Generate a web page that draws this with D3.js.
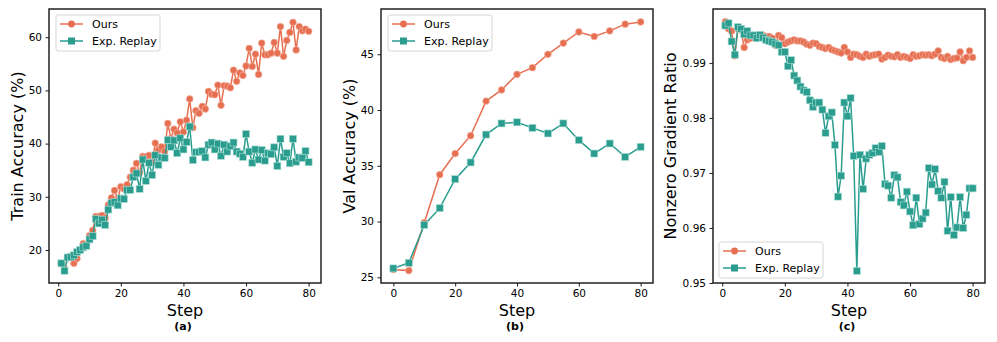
<!DOCTYPE html>
<html lang="en">
<head>
<meta charset="utf-8">
<title>Training curves</title>
<script src="https://d3js.org/d3.v7.min.js"></script>
<style>
  body { margin: 0; background: #fff; }
  text { font-family: "DejaVu Sans", sans-serif; fill: #000; }
</style>
</head>
<body>
<script>
// ---- data ----
var stepsA = d3.range(1, 81);
var trainOurs = [17.5, 16.5, 18.5, 18.8, 17.5, 18.4, 20.0, 21.2, 21.0, 22.7,
  23.7, 26.3, 26.3, 26.5, 26.0, 28.5, 29.8, 31.2, 29.5, 31.9,
  31.5, 32.3, 33.7, 35.0, 36.3, 34.5, 37.6, 37.5, 37.8, 36.5,
  40.1, 38.8, 39.4, 38.5, 43.8, 41.0, 42.7, 42.0, 44.1, 42.2,
  44.4, 48.4, 43.0, 46.2, 45.7, 47.0, 46.5, 49.8, 49.3, 49.2,
  51.0, 47.2, 50.9, 50.8, 50.5, 53.8, 51.7, 53.3, 52.8, 54.6,
  57.9, 54.5, 56.8, 53.0, 58.9, 56.7, 56.7, 57.0, 59.0, 57.0,
  62.0, 56.4, 59.4, 60.9, 62.8, 57.6, 62.0, 61.2, 61.5, 61.1];
var trainReplay = [17.5, 16.1, 18.6, 18.7, 19.0, 19.6, 20.0, 20.5, 20.8, 22.0,
  22.6, 25.8, 25.0, 25.7, 24.7, 27.6, 28.8, 29.0, 28.4, 29.7,
  29.6, 31.3, 31.3, 33.7, 34.4, 31.5, 37.0, 33.0, 36.4, 34.1,
  37.8, 36.0, 37.4, 37.3, 40.7, 39.4, 40.6, 38.2, 41.0, 38.9,
  40.3, 43.2, 36.9, 38.4, 38.4, 38.6, 37.4, 39.8, 40.2, 38.9,
  40.0, 37.7, 39.8, 38.5, 39.5, 40.2, 38.5, 38.1, 37.5, 41.8,
  38.5, 36.4, 38.9, 37.0, 38.8, 36.8, 38.2, 38.0, 39.3, 35.8,
  40.9, 37.5, 38.2, 36.3, 40.9, 36.6, 37.4, 37.3, 38.6, 36.5];

var stepsB = d3.range(0, 81, 5);
var valOurs = [25.7, 25.6, 29.9, 34.2, 36.1, 37.7, 40.8, 41.8, 43.2, 43.8,
  45.0, 46.0, 47.0, 46.6, 47.1, 47.7, 47.9];
var valReplay = [25.8, 26.3, 29.7, 31.2, 33.8, 35.3, 37.8, 38.8, 38.9, 38.4,
  37.9, 38.8, 37.3, 36.1, 37.0, 35.8, 36.7];

var stepsC = d3.range(1, 81);
var gradOurs = [0.9975, 0.9962, 0.9958, 0.9913, 0.9962, 0.9960, 0.9928, 0.9942, 0.9945, 0.9948,
  0.9946, 0.9948, 0.9950, 0.9948, 0.9948, 0.9945, 0.9932, 0.9950, 0.9946, 0.9935,
  0.9938, 0.9940, 0.9942, 0.9940, 0.9940, 0.9938, 0.9934, 0.9932, 0.9936, 0.9935,
  0.9930, 0.9928, 0.9926, 0.9928, 0.9924, 0.9922, 0.9920, 0.9918, 0.9928, 0.9920,
  0.9910, 0.9916, 0.9915, 0.9912, 0.9910, 0.9916, 0.9912, 0.9914, 0.9915, 0.9916,
  0.9907, 0.9910, 0.9914, 0.9912, 0.9911, 0.9915, 0.9910, 0.9912, 0.9910, 0.9908,
  0.9915, 0.9912, 0.9913, 0.9915, 0.9914, 0.9915, 0.9913, 0.9916, 0.9922, 0.9910,
  0.9908, 0.9912, 0.9906, 0.9908, 0.9909, 0.9920, 0.9904, 0.9910, 0.9922, 0.9910];
var gradReplay = [0.9968, 0.9972, 0.9939, 0.9915, 0.9965, 0.9962, 0.9952, 0.9958, 0.9950, 0.9950,
  0.9945, 0.9951, 0.9946, 0.9942, 0.9940, 0.9938, 0.9935, 0.9932, 0.9920, 0.9920,
  0.9894, 0.9905, 0.9877, 0.9868, 0.9857, 0.9850, 0.9847, 0.9832, 0.9820, 0.9828,
  0.9828, 0.9815, 0.9773, 0.9803, 0.9810, 0.9751, 0.9657, 0.9695, 0.9828, 0.9803,
  0.9836, 0.9731, 0.9522, 0.9733, 0.9671, 0.9726, 0.9733, 0.9736, 0.9745, 0.9738,
  0.9749, 0.9680, 0.9677, 0.9655, 0.9696, 0.9692, 0.9647, 0.9641, 0.9666, 0.9630,
  0.9605, 0.9655, 0.9607, 0.9617, 0.9628, 0.9709, 0.9679, 0.9707, 0.9667, 0.9655,
  0.9684, 0.9595, 0.9656, 0.9587, 0.9601, 0.9656, 0.9600, 0.9624, 0.9672, 0.9672];

var xTicks = [0, 20, 40, 60, 80];
var ticksA = [20, 30, 40, 50, 60];
var ticksB = [25, 30, 35, 40, 45];
var ticksC = [0.95, 0.96, 0.97, 0.98, 0.99];
var seriesNames = ["Ours", "Exp. Replay"];

var orange = "#e76f51";
var teal = "#2a9d8f";

var W = 997, H = 342;
var svg = d3.select("body").append("svg")
  .attr("width", W).attr("height", H)
  .style("display", "block");

function drawPanel(p) {
  var x = d3.scaleLinear().domain(p.xDomain).range([p.left, p.right]);
  var y = d3.scaleLinear().domain(p.yDomain).range([p.bottom, p.top]);
  var g = svg.append("g");

  var defs = g.append("defs");
  defs.append("clipPath").attr("id", "clip" + p.id)
    .append("rect").attr("x", p.left).attr("y", p.top)
    .attr("width", p.right - p.left).attr("height", p.bottom - p.top);

  var plot = g.append("g").attr("clip-path", "url(#clip" + p.id + ")");

  var series = [
    {vals: p.ours, color: orange, marker: "circle"},
    {vals: p.replay, color: teal, marker: "square"}
  ];

  series.forEach(function(s) {
    var pts = p.steps.map(function(st, i) { return [st, s.vals[i]]; });
    plot.append("path")
      .datum(pts)
      .attr("fill", "none")
      .attr("stroke", s.color)
      .attr("stroke-width", 1.5)
      .attr("d", d3.line().x(function(d) { return x(d[0]); }).y(function(d) { return y(d[1]); }));
    if (s.marker == "circle") {
      plot.selectAll(".c" + p.id).data(pts).enter().append("circle")
        .attr("cx", function(d) { return x(d[0]); })
        .attr("cy", function(d) { return y(d[1]); })
        .attr("r", 3.4)
        .attr("fill", s.color)
        .attr("stroke", "#f3b8a8").attr("stroke-width", 0.6);
    } else {
      plot.selectAll(".s" + p.id).data(pts).enter().append("rect")
        .attr("x", function(d) { return x(d[0]) - 3.5; })
        .attr("y", function(d) { return y(d[1]) - 3.5; })
        .attr("width", 7).attr("height", 7)
        .attr("fill", s.color)
        .attr("stroke", "#a9dcd5").attr("stroke-width", 0.6);
    }
  });

  // axes
  var xAxis = d3.axisBottom(x).tickValues(xTicks).tickSize(3.5).tickPadding(3.5);
  var yAxis = d3.axisLeft(y).tickValues(p.yTicks).tickSize(3.5).tickPadding(3.5)
    .tickFormat(p.yFormat);
  var gx = g.append("g").attr("transform", "translate(0," + p.bottom + ")").call(xAxis);
  var gy = g.append("g").attr("transform", "translate(" + p.left + ",0)").call(yAxis);
  [gx, gy].forEach(function(a) {
    a.select(".domain").remove();
    a.selectAll("line").attr("stroke", "#000").attr("stroke-width", 0.9);
    a.selectAll("text").attr("font-size", 10.5).attr("font-family", "DejaVu Sans").attr("fill", "#000");
  });

  // frame
  g.append("rect")
    .attr("x", p.left).attr("y", p.top)
    .attr("width", p.right - p.left).attr("height", p.bottom - p.top)
    .attr("fill", "none").attr("stroke", "#222").attr("stroke-width", 1.5);

  // labels
  var cx = (p.left + p.right) / 2;
  g.append("text").attr("x", cx).attr("y", 316)
    .attr("text-anchor", "middle").attr("font-size", 16).text("Step");
  g.append("text").attr("x", cx - 2).attr("y", 330)
    .attr("text-anchor", "middle").attr("font-size", 11).attr("font-weight", "bold")
    .text(p.tag);
  g.append("text")
    .attr("transform", "translate(" + p.yLabelX + "," + ((p.top + p.bottom) / 2) + ") rotate(-90)")
    .attr("text-anchor", "middle").attr("dy", "0.35em").attr("font-size", 16)
    .text(p.yLabel);

  // legend
  var lg = g.append("g").attr("transform", "translate(" + p.legX + "," + p.legY + ")");
  lg.append("rect").attr("x", 0).attr("y", 0).attr("width", 104).attr("height", 36)
    .attr("rx", 2.5).attr("fill", "#fff").attr("fill-opacity", 0.85)
    .attr("stroke", "#d0d0d0").attr("stroke-width", 0.9);
  seriesNames.forEach(function(name, i) {
    var ry = 9 + i * 17;
    var col = i == 0 ? orange : teal;
    lg.append("line").attr("x1", 4).attr("x2", 27).attr("y1", ry).attr("y2", ry)
      .attr("stroke", col).attr("stroke-width", 1.5);
    if (i == 0) {
      lg.append("circle").attr("cx", 15.5).attr("cy", ry).attr("r", 3.4).attr("fill", col);
    } else {
      lg.append("rect").attr("x", 12).attr("y", ry - 3.5).attr("width", 7).attr("height", 7).attr("fill", col);
    }
    lg.append("text").attr("x", 36).attr("y", ry).attr("dy", "0.35em")
      .attr("font-size", 11).text(name);
  });
}

drawPanel({
  id: "a", left: 49, right: 321, top: 9, bottom: 283,
  xDomain: [-2.95, 83.95], yDomain: [13.8, 65.3],
  steps: stepsA, ours: trainOurs, replay: trainReplay,
  yTicks: ticksA, yFormat: d3.format("d"),
  yLabel: "Train Accuracy (%)", yLabelX: 17, tag: "(a)",
  legX: 56, legY: 15
});

drawPanel({
  id: "b", left: 381, right: 653, top: 9, bottom: 283,
  xDomain: [-4, 84], yDomain: [24.49, 49.06],
  steps: stepsB, ours: valOurs, replay: valReplay,
  yTicks: ticksB, yFormat: d3.format("d"),
  yLabel: "Val Accuracy (%)", yLabelX: 349, tag: "(b)",
  legX: 388, legY: 15
});

drawPanel({
  id: "c", left: 713, right: 985, top: 9, bottom: 283,
  xDomain: [-2.95, 83.95], yDomain: [0.95, 0.9998],
  steps: stepsC, ours: gradOurs, replay: gradReplay,
  yTicks: ticksC, yFormat: d3.format(".2f"),
  yLabel: "Nonzero Gradient Ratio", yLabelX: 670, tag: "(c)",
  legX: 719, legY: 242
});
</script>
</body>
</html>
